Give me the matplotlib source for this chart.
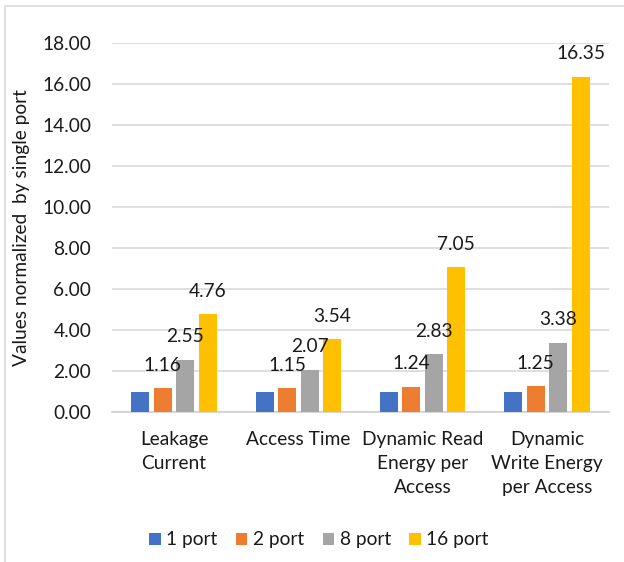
import matplotlib
matplotlib.use("Agg")
import matplotlib.pyplot as plt
from matplotlib.patches import Rectangle
import numpy as np

categories = ["Leakage\nCurrent", "Access Time", "Dynamic Read\nEnergy per\nAccess",
              "Dynamic\nWrite Energy\nper Access"]
series_names = ["1 port", "2 port", "8 port", "16 port"]
port1 = [1.00, 1.00, 1.00, 1.00]
port2 = [1.16, 1.15, 1.24, 1.25]
port8 = [2.55, 2.07, 2.83, 3.38]
port16 = [4.76, 3.54, 7.05, 16.35]
colors = ["#4472C4", "#ED7D31", "#A5A5A5", "#FFC000"]
labelled = [False, True, True, True]

plt.rcParams["font.family"] = ["Lato", "DejaVu Sans"]
FS = 13.8
TXT = "#1a1a1a"

W, H = 624, 562
fig = plt.figure(figsize=(W / 100, H / 100), dpi=100)

# outer chart border
fig.patches.append(Rectangle((5 / W, 1 - 566 / H), 640 / W, 560 / H,
                             transform=fig.transFigure, fill=False,
                             edgecolor="#d9d9d9", linewidth=1.2))

ax = fig.add_axes([112 / W, 1 - 412 / H, 497 / W, 369 / H])
ax.set_xlim(-0.5, 3.5)
ax.set_ylim(0, 18)

x = np.arange(len(categories))
pitch = 0.181
width = 0.145
all_series = [port1, port2, port8, port16]
for i, (vals, name, c, lab) in enumerate(zip(all_series, series_names, colors, labelled)):
    pos = x + (i - 1.5) * pitch
    ax.bar(pos, vals, width=width, color=c, label=name, zorder=3)
    if lab:
        for px, v in zip(pos, vals):
            ax.annotate(f"{v:.2f}", (px, v), xytext=(0, 16.5), textcoords="offset points",
                        ha="center", va="center", fontsize=FS, color=TXT, zorder=4)

ax.set_yticks(np.arange(0, 19, 2))
ax.set_yticklabels([f"{v:.2f}" for v in np.arange(0, 19, 2)], fontsize=FS, color=TXT)
ax.yaxis.grid(True, color="#d9d9d9", linewidth=1.2, zorder=0)
ax.set_axisbelow(True)
ax.tick_params(axis="y", length=0, pad=15)
ax.tick_params(axis="x", length=0, pad=14)
ax.set_xticks(x)
ax.set_xticklabels(categories, fontsize=FS, color=TXT, linespacing=1.5, va="top")
for s in ["top", "right", "left"]:
    ax.spines[s].set_visible(False)
ax.spines["bottom"].set_color("#d0d0d0")
ax.spines["bottom"].set_linewidth(1.2)

fig.text(22 / W, 1 - 228 / H, "Values normalized  by single port", rotation=90,
         ha="center", va="center", fontsize=FS, color=TXT)

leg = fig.legend(loc="center", bbox_to_anchor=(319 / W, 1 - 540 / H), ncol=4,
                 frameon=False, fontsize=FS, handlelength=0.6, handleheight=0.6,
                 handletextpad=0.3, columnspacing=0.95)
for t in leg.get_texts():
    t.set_color(TXT)

fig.savefig("out.png", dpi=100)
